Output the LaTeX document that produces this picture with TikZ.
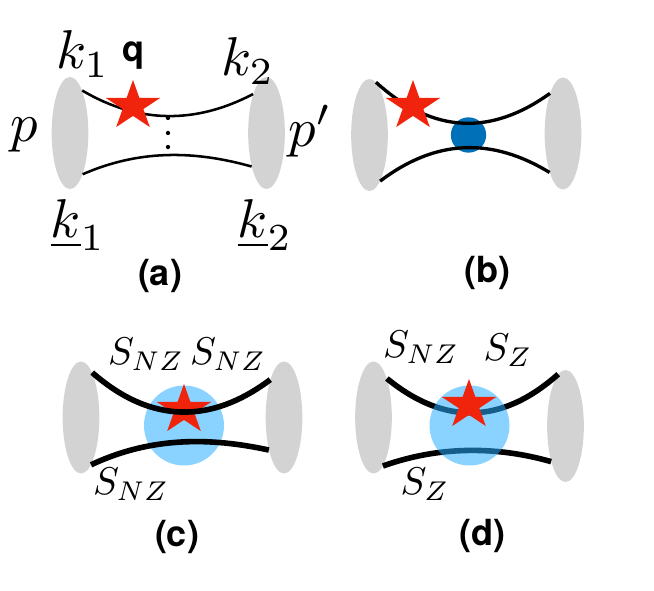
\documentclass[tikz,border=0pt]{standalone}
\usepackage[no-math]{fontspec}
\usepackage{amsmath, amssymb}
\newfontfamily\capfont{TeX Gyre Heros}
\usetikzlibrary{shapes.geometric}

\definecolor{blobgray}{HTML}{D3D3D3}
\definecolor{starred}{HTML}{F0240C}
\definecolor{softblue}{HTML}{0070B8}
\definecolor{hardblue}{RGB}{39,172,255}

\begin{document}
\begin{tikzpicture}[
    x=0.75pt, y=-0.75pt,
    blob/.style={ellipse, fill=blobgray, inner sep=0pt, minimum width=27.5pt, minimum height=84pt},
    redstar/.style={star, star points=5, star point ratio=2.618, fill=starred, inner sep=0pt,
                    minimum size=39pt, xscale=1.1, transform shape},
    softcore/.style={circle, fill=softblue, inner sep=0pt, minimum size=26.5pt},
    hardcore/.style={circle, fill=hardblue, fill opacity=0.54, inner sep=0pt, minimum size=60pt},
    thinline/.style={line width=1.9pt},
    midline/.style={line width=2.5pt},
    thickline/.style={line width=4.2pt},
    biglabel/.style={inner sep=0pt, scale=4.1, transform shape},
    smalllabel/.style={inner sep=0pt, scale=2.9, transform shape},
    caption/.style={inner sep=0pt, font=\capfont\bfseries\fontsize{27}{27}\selectfont}
]
\useasboundingbox (0,0) rectangle (654,591);

% panel a
\node[blob] (aL) at (70,133) {};
\node[blob] (aR) at (266.5,133) {};
\draw[thinline] (aL.74) .. controls (139,124) and (196,124) .. (aR.109);
\draw[thinline] (aL.-73) .. controls (138,150) and (193,150) .. (aR.-114);
\node[redstar] (astar) at (133,106) {};
\foreach \ypos/\dotname in {118/dota, 133/dotb, 147/dotc}
    \node[circle, fill=black, inner sep=0pt, minimum size=3.2pt] (\dotname) at (168,\ypos) {};

\node[biglabel] (kone) at (83,54) {$k_1$};
\node[biglabel] (ktwo) at (248,61) {$k_2$};
\node[biglabel] (pin) at (24,135) {$p$};
\node[biglabel] (pout) at (310,131) {$p'$};
\node[biglabel] (kubone) at (78,225) {$\underline{k}_1$};
\node[biglabel] (kubtwo) at (265,225) {$\underline{k}_2$};
\node[caption] (qlabel) at (133,56) {q};
\node[caption] (capa) at (160,276) {(a)};

% panel b
\node[blob] (bL) at (369.5,135) {};
\node[blob] (bR) at (563,133.5) {};
\node[softcore] (bcore) at (468.5,135) {};
\draw[midline] (bL.83) .. controls (434,135) and (492,135) .. (bR.108);
\draw[midline] (bL.-77) .. controls (437,138) and (493,138) .. (bR.-109);
\node[redstar] (bstar) at (413,106) {};
\node[caption] (capb) at (487,273) {(b)};

% panel c
\node[blob] (cL) at (81,417.5) {};
\node[blob] (cR) at (284,417.5) {};
\node[hardcore] (ccore) at (184,425.5) {};
\node[redstar] (cstar) at (184,410) {};
\draw[thickline] (cL.76) .. controls (151,424) and (211,424) .. (cR.110);
\draw[thickline] (cL.-78) .. controls (150,437) and (209,437) .. (cR.-115);
\node[smalllabel] (csa) at (146,354) {$S_{NZ}$};
\node[smalllabel] (csb) at (228,354) {$S_{NZ}$};
\node[smalllabel] (csc) at (131,484) {$S_{NZ}$};
\node[caption] (capc) at (177,537) {(c)};

% panel d
\node[blob] (dL) at (373.5,417.5) {};
\node[blob] (dR) at (565.5,426) {};
\draw[thickline] (dL.71) .. controls (444,425) and (501,425) .. (dR.98);
\draw[thickline] (dL.-79) .. controls (439,446) and (496,446) .. (dR.-112);
\node[hardcore] (dcore) at (469.5,425.5) {};
\node[redstar] (dstar) at (469,405) {};
\node[smalllabel] (dsa) at (421,347) {$S_{NZ}$};
\node[smalllabel] (dsb) at (508,350) {$S_{Z}$};
\node[smalllabel] (dsc) at (425,484) {$S_{Z}$};
\node[caption] (capd) at (482,536) {(d)};

\end{tikzpicture}
\end{document}
